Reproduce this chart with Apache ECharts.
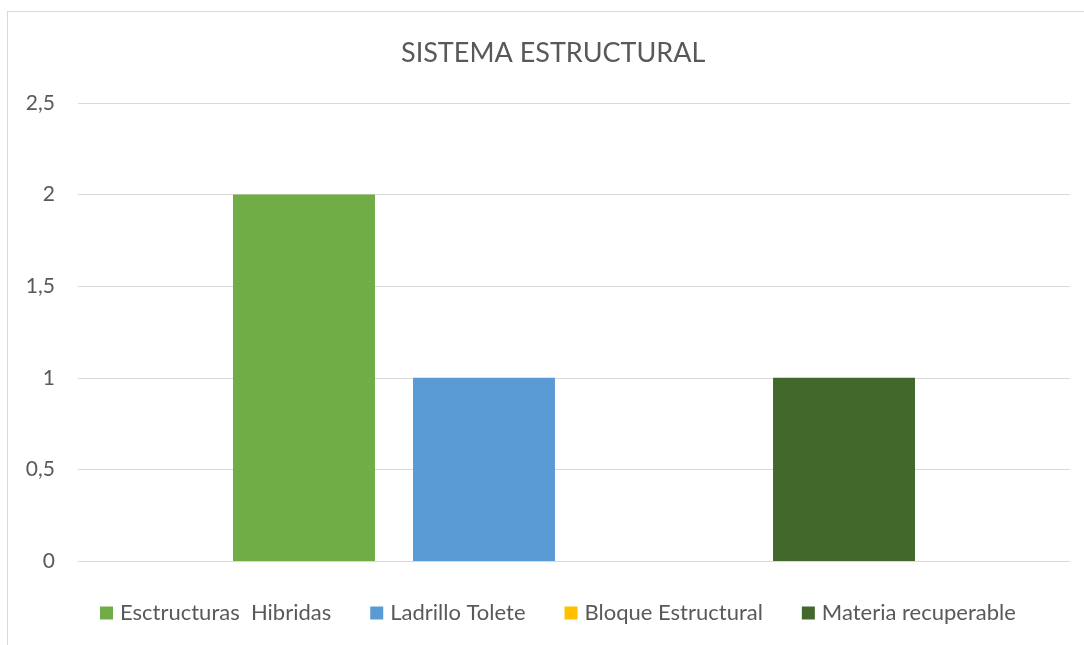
<!DOCTYPE html>
<html><head><meta charset="utf-8">
<script src="https://cdn.jsdelivr.net/npm/echarts@6/dist/echarts.min.js"></script>
<style>html,body{margin:0;padding:0;background:#fff}#c{width:1084px;height:645px;position:relative}
#frame{position:absolute;left:7px;top:11px;width:1100px;height:660px;border:1px solid #d9d9d9;box-sizing:border-box;pointer-events:none}</style>
</head><body><div id="c"></div><div id="frame"></div>
<script>
const categories = ['SISTEMA ESTRUCTURAL'];
const seriesNames = ['Esctructuras  Hibridas', 'Ladrillo Tolete', 'Bloque Estructural', 'Materia recuperable'];
const seriesValues = [[2], [1], [0], [1]];
const colors = ['#70AD47', '#5B9BD5', '#FFC000', '#43682B'];
const yTicks = [0, 0.5, 1, 1.5, 2, 2.5];

const font = 'Lato';
const chart = echarts.init(document.getElementById('c'));
chart.setOption({
  animation: false,
  title: { text: 'SISTEMA ESTRUCTURAL', left: 396, top: 35,
    textStyle: { fontFamily: font, fontSize: 27, fontWeight: 'normal', color: '#595959' } },
  grid: { left: 78, right: 14, top: 103, bottom: 84 },
  legend: { bottom: 16, left: 95, itemWidth: 13, itemHeight: 13, itemGap: 39,
    icon: 'rect', textStyle: { fontFamily: font, fontSize: 22, color: '#595959', padding: [0,0,0,2] },
    data: seriesNames },
  xAxis: { type: 'category', data: categories, show: true,
    axisLine: { show: false }, axisTick: { show: false }, axisLabel: { show: false } },
  yAxis: { type: 'value', min: 0, max: 2.5, interval: 0.5,
    axisLine: { show: false }, axisTick: { show: false },
    splitLine: { lineStyle: { color: '#d9d9d9', width: 1 } },
    axisLabel: { fontFamily: font, fontSize: 21, color: '#595959', margin: 23,
      formatter: v => String(v).replace('.', ',') } },
  series: seriesNames.map((n, i) => ({
    name: n, type: 'bar', data: seriesValues[i], barGap: '26.8%', barCategoryGap: '31.25%',
    itemStyle: { color: colors[i] } }))
});
</script></body></html>
